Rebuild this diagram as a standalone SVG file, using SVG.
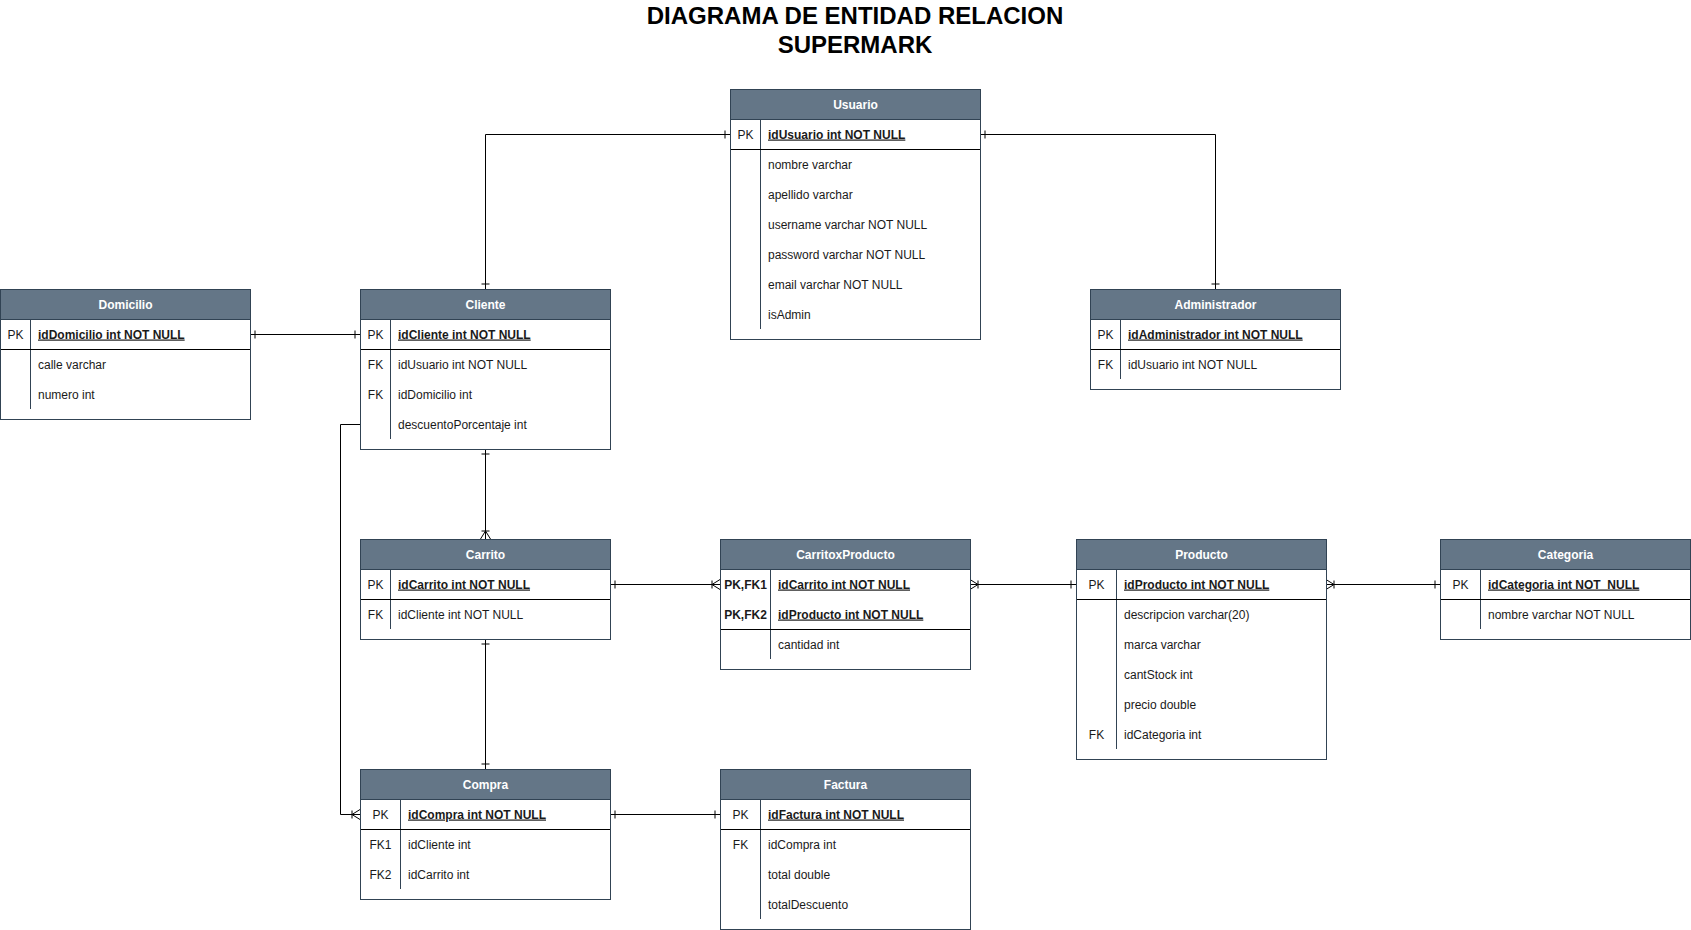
<svg xmlns="http://www.w3.org/2000/svg" width="1691" height="930" viewBox="0 0 1691 930">
<style>
.bg{fill:#ffffff}
.tbl{fill:#ffffff;stroke:#314354;stroke-width:1}
.hdr{fill:#647687;stroke:#314354;stroke-width:1}
.ht{font-family:"Liberation Sans",Arial,sans-serif;font-size:12px;font-weight:bold;fill:#ffffff;text-anchor:middle}
.t{font-family:"Liberation Sans",Arial,sans-serif;font-size:12px;fill:#1a1a1a}
.k{font-family:"Liberation Sans",Arial,sans-serif;font-size:12px;fill:#1a1a1a;text-anchor:middle}
.pk{font-weight:bold;text-decoration:underline}
.pkk{font-weight:bold}
.sep{stroke:#000000;stroke-width:1}
.div{stroke:#314354;stroke-width:1}
.title{font-family:"Liberation Sans",Arial,sans-serif;font-size:24px;font-weight:bold;fill:#000000;text-anchor:middle}
.conn{fill:none;stroke:#000000;stroke-width:1}
</style>
<defs>
<marker id="one" markerUnits="userSpaceOnUse" markerWidth="20" markerHeight="20" viewBox="-15 -10 20 20" refX="0" refY="0" orient="auto-start-reverse" overflow="visible">
<path d="M-5,-4 L-5,4" fill="none" stroke="#000" stroke-width="1"/>
</marker>
<marker id="many" markerUnits="userSpaceOnUse" markerWidth="20" markerHeight="20" viewBox="-15 -10 20 20" refX="0" refY="0" orient="auto-start-reverse" overflow="visible">
<path d="M0,-5 L-8,0 L0,5 M-8,-4 L-8,4" fill="none" stroke="#000" stroke-width="1"/>
</marker>
</defs>
<rect class="bg" x="0" y="0" width="1691" height="930"/>

<g id="title">
<text class="title" x="855" y="23.5">DIAGRAMA DE ENTIDAD RELACION</text>
<text class="title" x="855" y="52.5">SUPERMARK</text>
</g>

<g id="connectors">
<path class="conn" d="M730,134.5 H485.5 V289" marker-start="url(#one)" marker-end="url(#one)"/>
<path class="conn" d="M980,134.5 H1215.5 V289" marker-start="url(#one)" marker-end="url(#one)"/>
<path class="conn" d="M250,334.5 H360" marker-start="url(#one)" marker-end="url(#one)"/>
<path class="conn" d="M485.5,449 V539" marker-start="url(#one)" marker-end="url(#many)"/>
<path class="conn" d="M485.5,639 V769" marker-start="url(#one)" marker-end="url(#one)"/>
<path class="conn" d="M360,424.5 H340.5 V814.5 H360" marker-end="url(#many)"/>
<path class="conn" d="M610,584.5 H720" marker-start="url(#one)" marker-end="url(#many)"/>
<path class="conn" d="M970,584.5 H1076" marker-start="url(#many)" marker-end="url(#one)"/>
<path class="conn" d="M1326,584.5 H1440" marker-start="url(#many)" marker-end="url(#one)"/>
<path class="conn" d="M610,814.5 H720" marker-start="url(#one)" marker-end="url(#one)"/>
</g>

<g id="usuario">
<rect class="tbl" x="730.5" y="89.5" width="250" height="250"/>
<rect class="hdr" x="730.5" y="89.5" width="250" height="30"/>
<text class="ht" x="855.5" y="108.5">Usuario</text>
<line class="div" x1="760.5" y1="120" x2="760.5" y2="329"/>
<line class="sep" x1="731" y1="149.5" x2="980" y2="149.5"/>
<text class="k" x="745.5" y="138.5">PK</text>
<text class="t pk" x="768" y="138.5">idUsuario int NOT NULL</text>
<text class="t" x="768" y="168.5">nombre varchar</text>
<text class="t" x="768" y="198.5">apellido varchar</text>
<text class="t" x="768" y="228.5">username varchar NOT NULL</text>
<text class="t" x="768" y="258.5">password varchar NOT NULL</text>
<text class="t" x="768" y="288.5">email varchar NOT NULL</text>
<text class="t" x="768" y="318.5">isAdmin</text>
</g>

<g id="domicilio">
<rect class="tbl" x="0.5" y="289.5" width="250" height="130"/>
<rect class="hdr" x="0.5" y="289.5" width="250" height="30"/>
<text class="ht" x="125.5" y="308.5">Domicilio</text>
<line class="div" x1="30.5" y1="320" x2="30.5" y2="409"/>
<line class="sep" x1="1" y1="349.5" x2="250" y2="349.5"/>
<text class="k" x="15.5" y="338.5">PK</text>
<text class="t pk" x="38" y="338.5">idDomicilio int NOT NULL</text>
<text class="t" x="38" y="368.5">calle varchar</text>
<text class="t" x="38" y="398.5">numero int</text>
</g>

<g id="cliente">
<rect class="tbl" x="360.5" y="289.5" width="250" height="160"/>
<rect class="hdr" x="360.5" y="289.5" width="250" height="30"/>
<text class="ht" x="485.5" y="308.5">Cliente</text>
<line class="div" x1="390.5" y1="320" x2="390.5" y2="439"/>
<line class="sep" x1="361" y1="349.5" x2="610" y2="349.5"/>
<text class="k" x="375.5" y="338.5">PK</text>
<text class="t pk" x="398" y="338.5">idCliente int NOT NULL</text>
<text class="k" x="375.5" y="368.5">FK</text>
<text class="t" x="398" y="368.5">idUsuario int NOT NULL</text>
<text class="k" x="375.5" y="398.5">FK</text>
<text class="t" x="398" y="398.5">idDomicilio int</text>
<text class="t" x="398" y="428.5">descuentoPorcentaje int</text>
</g>

<g id="administrador">
<rect class="tbl" x="1090.5" y="289.5" width="250" height="100"/>
<rect class="hdr" x="1090.5" y="289.5" width="250" height="30"/>
<text class="ht" x="1215.5" y="308.5">Administrador</text>
<line class="div" x1="1120.5" y1="320" x2="1120.5" y2="379"/>
<line class="sep" x1="1091" y1="349.5" x2="1340" y2="349.5"/>
<text class="k" x="1105.5" y="338.5">PK</text>
<text class="t pk" x="1128" y="338.5">idAdministrador int NOT NULL</text>
<text class="k" x="1105.5" y="368.5">FK</text>
<text class="t" x="1128" y="368.5">idUsuario int NOT NULL</text>
</g>

<g id="carrito">
<rect class="tbl" x="360.5" y="539.5" width="250" height="100"/>
<rect class="hdr" x="360.5" y="539.5" width="250" height="30"/>
<text class="ht" x="485.5" y="558.5">Carrito</text>
<line class="div" x1="390.5" y1="570" x2="390.5" y2="629"/>
<line class="sep" x1="361" y1="599.5" x2="610" y2="599.5"/>
<text class="k" x="375.5" y="588.5">PK</text>
<text class="t pk" x="398" y="588.5">idCarrito int NOT NULL</text>
<text class="k" x="375.5" y="618.5">FK</text>
<text class="t" x="398" y="618.5">idCliente int NOT NULL</text>
</g>

<g id="carritoxproducto">
<rect class="tbl" x="720.5" y="539.5" width="250" height="130"/>
<rect class="hdr" x="720.5" y="539.5" width="250" height="30"/>
<text class="ht" x="845.5" y="558.5">CarritoxProducto</text>
<line class="div" x1="770.5" y1="570" x2="770.5" y2="659"/>
<line class="sep" x1="721" y1="629.5" x2="970" y2="629.5"/>
<text class="k pkk" x="745.5" y="588.5">PK,FK1</text>
<text class="t pk" x="778" y="588.5">idCarrito int NOT NULL</text>
<text class="k pkk" x="745.5" y="618.5">PK,FK2</text>
<text class="t pk" x="778" y="618.5">idProducto int NOT NULL</text>
<text class="t" x="778" y="648.5">cantidad int</text>
</g>

<g id="producto">
<rect class="tbl" x="1076.5" y="539.5" width="250" height="220"/>
<rect class="hdr" x="1076.5" y="539.5" width="250" height="30"/>
<text class="ht" x="1201.5" y="558.5">Producto</text>
<line class="div" x1="1116.5" y1="570" x2="1116.5" y2="749"/>
<line class="sep" x1="1077" y1="599.5" x2="1326" y2="599.5"/>
<text class="k" x="1096.5" y="588.5">PK</text>
<text class="t pk" x="1124" y="588.5">idProducto int NOT NULL</text>
<text class="t" x="1124" y="618.5">descripcion varchar(20)</text>
<text class="t" x="1124" y="648.5">marca varchar</text>
<text class="t" x="1124" y="678.5">cantStock int</text>
<text class="t" x="1124" y="708.5">precio double</text>
<text class="k" x="1096.5" y="738.5">FK</text>
<text class="t" x="1124" y="738.5">idCategoria int</text>
</g>

<g id="categoria">
<rect class="tbl" x="1440.5" y="539.5" width="250" height="100"/>
<rect class="hdr" x="1440.5" y="539.5" width="250" height="30"/>
<text class="ht" x="1565.5" y="558.5">Categoria</text>
<line class="div" x1="1480.5" y1="570" x2="1480.5" y2="629"/>
<line class="sep" x1="1441" y1="599.5" x2="1690" y2="599.5"/>
<text class="k" x="1460.5" y="588.5">PK</text>
<text class="t pk" x="1488" y="588.5" xml:space="preserve">idCategoria int NOT  NULL</text>
<text class="t" x="1488" y="618.5">nombre varchar NOT NULL</text>
</g>

<g id="compra">
<rect class="tbl" x="360.5" y="769.5" width="250" height="130"/>
<rect class="hdr" x="360.5" y="769.5" width="250" height="30"/>
<text class="ht" x="485.5" y="788.5">Compra</text>
<line class="div" x1="400.5" y1="800" x2="400.5" y2="889"/>
<line class="sep" x1="361" y1="829.5" x2="610" y2="829.5"/>
<text class="k" x="380.5" y="818.5">PK</text>
<text class="t pk" x="408" y="818.5">idCompra int NOT NULL</text>
<text class="k" x="380.5" y="848.5">FK1</text>
<text class="t" x="408" y="848.5">idCliente int</text>
<text class="k" x="380.5" y="878.5">FK2</text>
<text class="t" x="408" y="878.5">idCarrito int</text>
</g>

<g id="factura">
<rect class="tbl" x="720.5" y="769.5" width="250" height="160"/>
<rect class="hdr" x="720.5" y="769.5" width="250" height="30"/>
<text class="ht" x="845.5" y="788.5">Factura</text>
<line class="div" x1="760.5" y1="800" x2="760.5" y2="919"/>
<line class="sep" x1="721" y1="829.5" x2="970" y2="829.5"/>
<text class="k" x="740.5" y="818.5">PK</text>
<text class="t pk" x="768" y="818.5">idFactura int NOT NULL</text>
<text class="k" x="740.5" y="848.5">FK</text>
<text class="t" x="768" y="848.5">idCompra int</text>
<text class="t" x="768" y="878.5">total double</text>
<text class="t" x="768" y="908.5">totalDescuento</text>
</g>
</svg>
